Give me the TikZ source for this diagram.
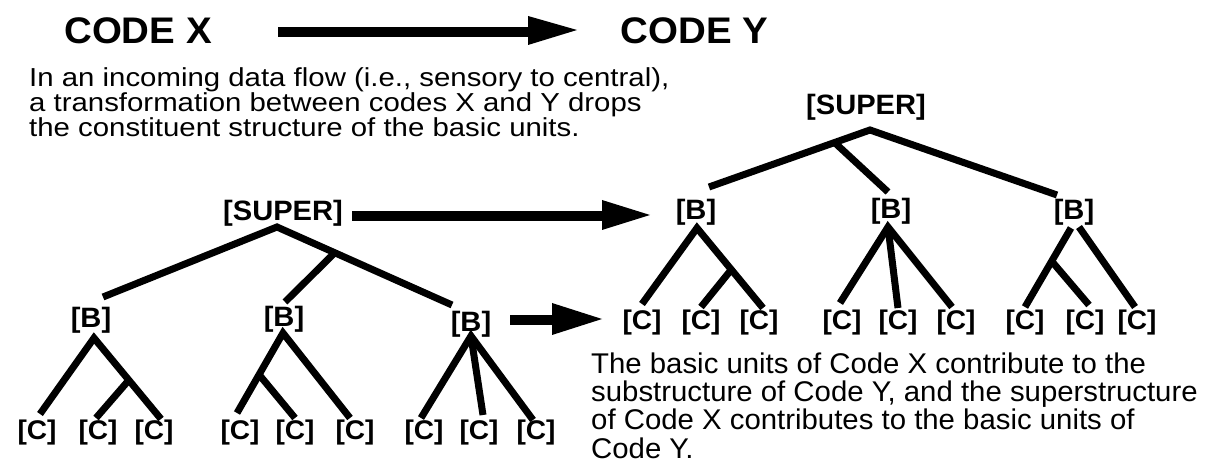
\documentclass[tikz,border=0pt]{standalone}
\usepackage{fontspec}
\setmainfont{Liberation Sans}
\newfontfamily\lblfont[FakeStretch=1.04]{Liberation Sans}
\newfontfamily\paraAfont[FakeStretch=1.13]{Liberation Sans}
\newfontfamily\paraBfont[FakeStretch=1.03]{Liberation Sans}
\usetikzlibrary{calc}
\tikzset{
  title/.style={font=\lblfont\bfseries\fontsize{37}{37}\selectfont, inner sep=0pt, anchor=base},
  suplbl/.style={font=\lblfont\bfseries\fontsize{28}{28}\selectfont, inner sep=0pt},
  blbl/.style={font=\lblfont\bfseries\fontsize{28}{28}\selectfont, inner sep=0pt},
  clbl/.style={font=\lblfont\bfseries\fontsize{27}{27}\selectfont, inner sep=0pt},
  branch/.style={line width=7pt, line join=miter},
  shaft/.style={line width=10.5pt},
  head/.style={fill=black},
  paraA/.style={font=\paraAfont\fontsize{26}{22.5}\selectfont, inner sep=0pt, align=left, anchor=base west},
  paraB/.style={font=\paraBfont\fontsize{28.5}{28.3}\selectfont, inner sep=0pt, align=left, anchor=base west},
}
\begin{document}
\begin{tikzpicture}[x=1pt,y=-1pt]
\useasboundingbox (0,0) rectangle (1211,462);

% ---------- titles and top arrow ----------
\node[title] (codex) at (138,44) {CODE X};
\node[title] (codey) at (694.5,44) {CODE Y};
\coordinate (a1s) at (278,32);
\coordinate (a1b) at (528,32);
\coordinate (a1t) at (577,30);
\draw[shaft] (a1s) -- ($(a1b)+(1,0)$);
\fill[head] ($(a1b)+(0,-16)$) -- (a1t) -- ($(a1b)+(0,13)$) -- cycle;

% ---------- paragraph 1 (base = last line) ----------
\node[paraA] (p1) at (29,137) {In an incoming data flow (i.e., sensory to central),\\a transformation between codes X and Y drops\\the constituent structure of the basic units.};

% ---------- left tree (Code X) ----------
\node[suplbl] (lS) at (283,213) {[SUPER]};
\coordinate (lApex) at (277,227);
\coordinate (lB1t) at (103,297);
\coordinate (lB2t) at (285,302);
\coordinate (lB3t) at (452,305);
\draw[branch] (lB1t) -- (lApex) -- (lB3t);
\draw[branch] ($(lApex)!0.33!(lB3t)$) -- (lB2t);

\node[blbl] (lB1) at (91,320) {[B]};
\node[blbl] (lB2) at (284,319) {[B]};
\node[blbl] (lB3) at (471,324) {[B]};

% subtree 1
\coordinate (l1a) at (94,338);
\coordinate (l1c1) at (40,414);
\coordinate (l1c2) at (96,418);
\coordinate (l1c3) at (161,419);
\draw[branch] (l1c1) -- (l1a) -- (l1c3);
\draw[branch] ($(l1a)!0.52!(l1c3)$) -- (l1c2);
% subtree 2
\coordinate (l2a) at (283,333);
\coordinate (l2c1) at (237,413);
\coordinate (l2c2) at (295,418);
\coordinate (l2c3) at (350,418);
\draw[branch] (l2c1) -- (l2a) -- (l2c3);
\draw[branch] ($(l2a)!0.52!(l2c1)$) -- (l2c2);
% subtree 3
\coordinate (l3a) at (471,336);
\coordinate (l3c1) at (421,418);
\coordinate (l3c2) at (483,415);
\coordinate (l3c3) at (533,420);
\draw[branch] (l3c1) -- (l3a) -- (l3c3);
\draw[branch] (l3a) -- (l3c2);

\foreach \x/\n in {37/1,98/2,154/3,240/4,295/5,355/6,424/7,479/8,536/9}
  \node[clbl] (lC\n) at (\x,433) {[C]};

% ---------- middle arrows ----------
\coordinate (a2s) at (352,216);
\coordinate (a2b) at (602,216);
\coordinate (a2t) at (650,215);
\draw[shaft] (a2s) -- ($(a2b)+(1,0)$);
\fill[head] ($(a2b)+(0,-16)$) -- (a2t) -- ($(a2b)+(0,14)$) -- cycle;

\coordinate (a3s) at (510,320);
\coordinate (a3b) at (552,320);
\coordinate (a3t) at (602,319);
\draw[shaft] (a3s) -- ($(a3b)+(1,0)$);
\fill[head] ($(a3b)+(0,-17)$) -- (a3t) -- ($(a3b)+(0,15)$) -- cycle;

% ---------- right tree (Code Y) ----------
\node[suplbl] (rS) at (866,107.5) {[SUPER]};
\coordinate (rApex) at (870,130);
\coordinate (rB1t) at (709,187);
\coordinate (rB2t) at (888,192);
\coordinate (rB3t) at (1057,195);
\draw[branch] (rB1t) -- (rApex) -- (rB3t);
\draw[branch] ($(rApex)!0.22!(rB1t)$) -- (rB2t);

\node[blbl] (rB1) at (696,212) {[B]};
\node[blbl] (rB2) at (891,211) {[B]};
\node[blbl] (rB3) at (1074,212) {[B]};

% subtree 1
\coordinate (r1a) at (697,228);
\coordinate (r1c1) at (642,304);
\coordinate (r1c2) at (701,307);
\coordinate (r1c3) at (763,308);
\draw[branch] (r1c1) -- (r1a) -- (r1c3);
\draw[branch] ($(r1a)!0.52!(r1c3)$) -- (r1c2);
% subtree 2
\coordinate (r2a) at (888,227);
\coordinate (r2c1) at (840,303);
\coordinate (r2c2) at (898,308);
\coordinate (r2c3) at (952,307);
\draw[branch] (r2c1) -- (r2a) -- (r2c3);
\draw[branch] (r2a) -- (r2c2);
% subtree 3
\coordinate (r3aL) at (1071,228);
\coordinate (r3aR) at (1079,227);
\coordinate (r3c1) at (1025,307);
\coordinate (r3c2) at (1089,305);
\coordinate (r3c3) at (1135,307);
\draw[branch] (r3aL) -- (r3c1);
\draw[branch] (r3aR) -- (r3c3);
\draw[branch] ($(r3aL)!0.42!(r3c1)$) -- (r3c2);

\foreach \x/\n in {642/1,701/2,759/3,842/4,898/5,956/6,1025/7,1085/8,1137/9}
  \node[clbl] (rC\n) at (\x,323) {[C]};

% ---------- paragraph 2 (base = last line) ----------
\node[paraB] (p2) at (591,458) {The basic units of Code X contribute to the\\substructure of Code Y, and the superstructure\\of Code X contributes to the basic units of\\Code Y.};
\end{tikzpicture}
\end{document}
